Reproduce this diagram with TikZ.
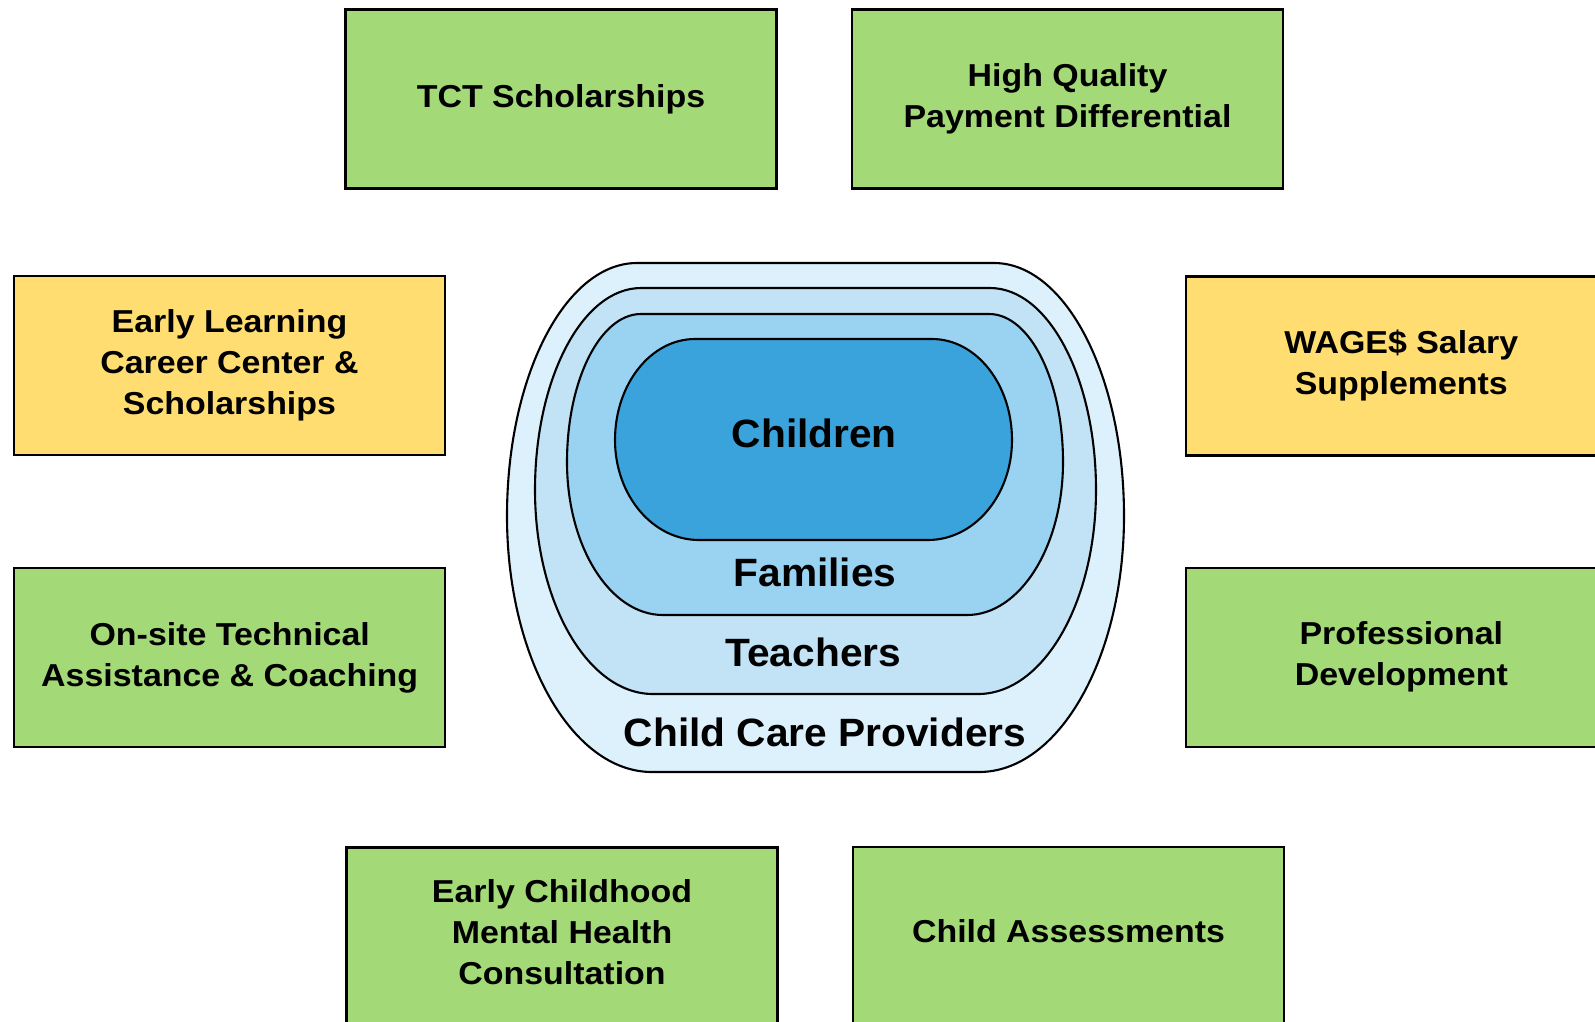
\documentclass[tikz,border=0pt]{standalone}
\usepackage{fontspec}
\newfontfamily\boxfont{Liberation Sans}[FakeStretch=1.07]
\newfontfamily\ringfont{Liberation Sans}[FakeStretch=1.03]

\definecolor{boxgreen}{HTML}{A3D977}
\definecolor{boxyellow}{HTML}{FFDD71}
\definecolor{ringA}{HTML}{DDF1FD}
\definecolor{ringB}{HTML}{C1E3F5}
\definecolor{ringC}{HTML}{9AD2F1}
\definecolor{ringD}{HTML}{3BA3DB}

% Rounded ring outline: #1 style, #2 left, #3 right, #4 top, #5 bottom,
% #6 height of the widest point, #7 top corner radius, #8 bottom corner radius
\newcommand\ringpath[8]{%
  \path[#1] (#2,#6) .. controls (#2,{#6-0.5523*(#6-#4)}) and ({#2+0.4477*#7},#4) .. ({#2+#7},#4)
    -- ({#3-#7},#4) .. controls ({#3-0.4477*#7},#4) and (#3,{#6-0.5523*(#6-#4)}) .. (#3,#6)
    .. controls (#3,{#6+0.5523*(#5-#6)}) and ({#3-0.4477*#8},#5) .. ({#3-#8},#5)
    -- ({#2+#8},#5) .. controls ({#2+0.4477*#8},#5) and (#2,{#6+0.5523*(#5-#6)}) .. (#2,#6) -- cycle;}

\tikzset{
  boxtextfont/.style={font=\boxfont\bfseries\fontsize{31.7}{41}\selectfont},
  prog/.style={draw=black, line width=2.4pt, minimum width=431pt, minimum height=179pt,
    inner sep=0pt, align=center, boxtextfont},
  green box/.style={prog, fill=boxgreen},
  yellow box/.style={prog, fill=boxyellow},
  boxlabel/.style={inner sep=0pt, align=center, boxtextfont},
  ring/.style={draw=black, line width=2.1pt},
  ringlabel/.style={anchor=base, inner sep=0pt,
    font=\ringfont\bfseries\fontsize{39.5}{47}\selectfont},
}

\begin{document}
\begin{tikzpicture}[x=1pt, y=-1pt]
  \useasboundingbox (0,0) rectangle (1595,1021);
  \fill[white] (0,0) rectangle (1595,1021);
  \clip (0,0) rectangle (1595,1021);

  % nested circles of care
  \ringpath{ring, fill=ringA}{507}{1124}{263}{772}{516}{130}{145}
  \ringpath{ring, fill=ringB}{535}{1096}{288}{694}{490}{106}{118}
  \ringpath{ring, fill=ringC}{567}{1063}{314}{615}{462}{74}{96}
  \ringpath{ring, fill=ringD}{615}{1012}{339}{540}{440}{80}{84}

  \node[ringlabel] (children)  at (814.3,447.7) {Children};
  \node[ringlabel] (families)  at (815,586.7)   {Families};
  \node[ringlabel] (teachers)  at (813.3,666.7) {Teachers};
  \node[ringlabel] (providers) at (825,746)     {Child Care Providers};

  % supports around the circle
  \node[green box]  (tct)     at (561,98.8)     {TCT Scholarships};
  \node[green box]  (hqpd)    at (1067.5,98.8)  {High Quality\\Payment Differential};
  \node[yellow box] (elcc)    at (229.5,365.5)  {Early Learning\\Career Center \&\\Scholarships};
  \node[yellow box] (wages)   at (1401.3,365.8) {WAGE\$ Salary\\Supplements};
  \node[green box]  (onsite)  at (229.7,657.5)  {On-site Technical\\Assistance \& Coaching};
  \node[green box]  (profdev) at (1401.3,657.2) {Professional\\Development};
  \node[green box]  (ecmh)    at (562,937)      {};
  \node[green box]  (assess)  at (1068.5,936.5) {};
  \node[boxlabel] (ecmhtext)   at ([yshift=5pt]ecmh.center)   {Early Childhood\\Mental Health\\Consultation};
  \node[boxlabel] (assesstext) at ([yshift=5pt]assess.center) {Child Assessments};
\end{tikzpicture}
\end{document}
